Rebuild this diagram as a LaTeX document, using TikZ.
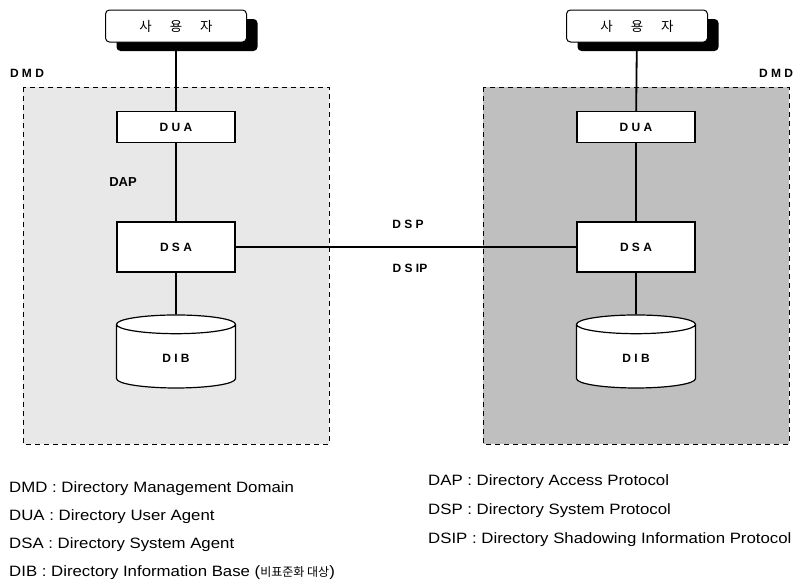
\documentclass[tikz,border=0pt]{standalone}
\usepackage{fontspec}
\setmainfont{Liberation Sans}
\newfontfamily\krfont{Noto Sans CJK KR}
\newfontfamily\legendfont[FakeStretch=1.12]{Liberation Sans}
\usetikzlibrary{shapes.geometric,shadows}

\begin{document}
\begin{tikzpicture}[x=1pt,y=-1pt,
  dmdbox/.style={dash pattern=on 5pt off 4pt,line width=0.7pt},
  userbox/.style={draw,line width=1pt,rounded corners=4pt,fill=white,minimum width=141pt,minimum height=32pt,
    font=\krfont\fontsize{13.5}{15}\selectfont,
    drop shadow={shadow xshift=11pt,shadow yshift=-9pt,fill=black,opacity=1}},
  agent/.style={draw,line width=1.2pt,fill=white,minimum width=118pt,font=\bfseries\fontsize{12}{14}\selectfont},
  dib/.style={draw,line width=1.2pt,fill=white,cylinder,shape border rotate=90,aspect=0.55,
    minimum width=119pt,minimum height=73pt,font=\bfseries\fontsize{12}{14}\selectfont},
  proto/.style={font=\bfseries\fontsize{12}{14}\selectfont},
  link/.style={line width=1.8pt},
  legend/.style={anchor=west,inner sep=0pt,font=\legendfont\fontsize{15}{18}\selectfont}]
\useasboundingbox (0,0) rectangle (802,581);

% the two domains
\fill[black!9] (23,87) rectangle (329,444);
\fill[black!25] (483,87) rectangle (789,444);
\draw[dmdbox] (23,87) rectangle (329,444);
\draw[dmdbox] (483,87) rectangle (789,444);
\node[proto] (dmdL) at (27,73) {D M D};
\node[proto] (dmdR) at (776,73) {D M D};

% left side
\node[userbox] (userL) at (176,26) {사\hspace{18pt}용\hspace{18pt}자};
\node[agent,minimum height=31pt] (duaL) at (176,127) {D U A};
\node[agent,minimum height=50pt] (dsaL) at (176,247) {D S A};
\node[dib] (dibL) at (176,358) {D I B};
\node[proto,font=\bfseries\fontsize{13}{15}\selectfont] (dap) at (123,182) {DAP};

% right side
\node[userbox] (userR) at (637,26) {사\hspace{18pt}용\hspace{18pt}자};
\node[agent,minimum height=31pt] (duaR) at (636,127) {D U A};
\node[agent,minimum height=50pt] (dsaR) at (636,247) {D S A};
\node[dib] (dibR) at (636,358) {D I B};

\node[proto] (dsp) at (408,224) {D S P};
\node[proto] (dsip) at (410,268) {D S IP};

\draw[link] (userL) -- (duaL);
\draw[link] (duaL) -- (dsaL);
\draw[link] (dsaL) -- (dibL);
\draw[link] (userR) -- (duaR);
\draw[link] (duaR) -- (dsaR);
\draw[link] (dsaR) -- (dibR);
\draw[link] (dsaL) -- (dsaR);

% legend
\node[legend] (lgDMD) at (9,489) {DMD : Directory Management Domain};
\node[legend] (lgDUA) at (9,517) {DUA : Directory User Agent};
\node[legend] (lgDSA) at (9,545) {DSA : Directory System Agent};
\node[legend] (lgDIB) at (9,573) {DIB : Directory Information Base ({\krfont\fontsize{12}{14}\selectfont 비표준화 대상})};
\node[legend] (lgDAP) at (428,482) {DAP : Directory Access Protocol};
\node[legend] (lgDSP) at (428,511) {DSP : Directory System Protocol};
\node[legend] (lgDSIP) at (428,540) {DSIP : Directory Shadowing Information Protocol};
\end{tikzpicture}
\end{document}
